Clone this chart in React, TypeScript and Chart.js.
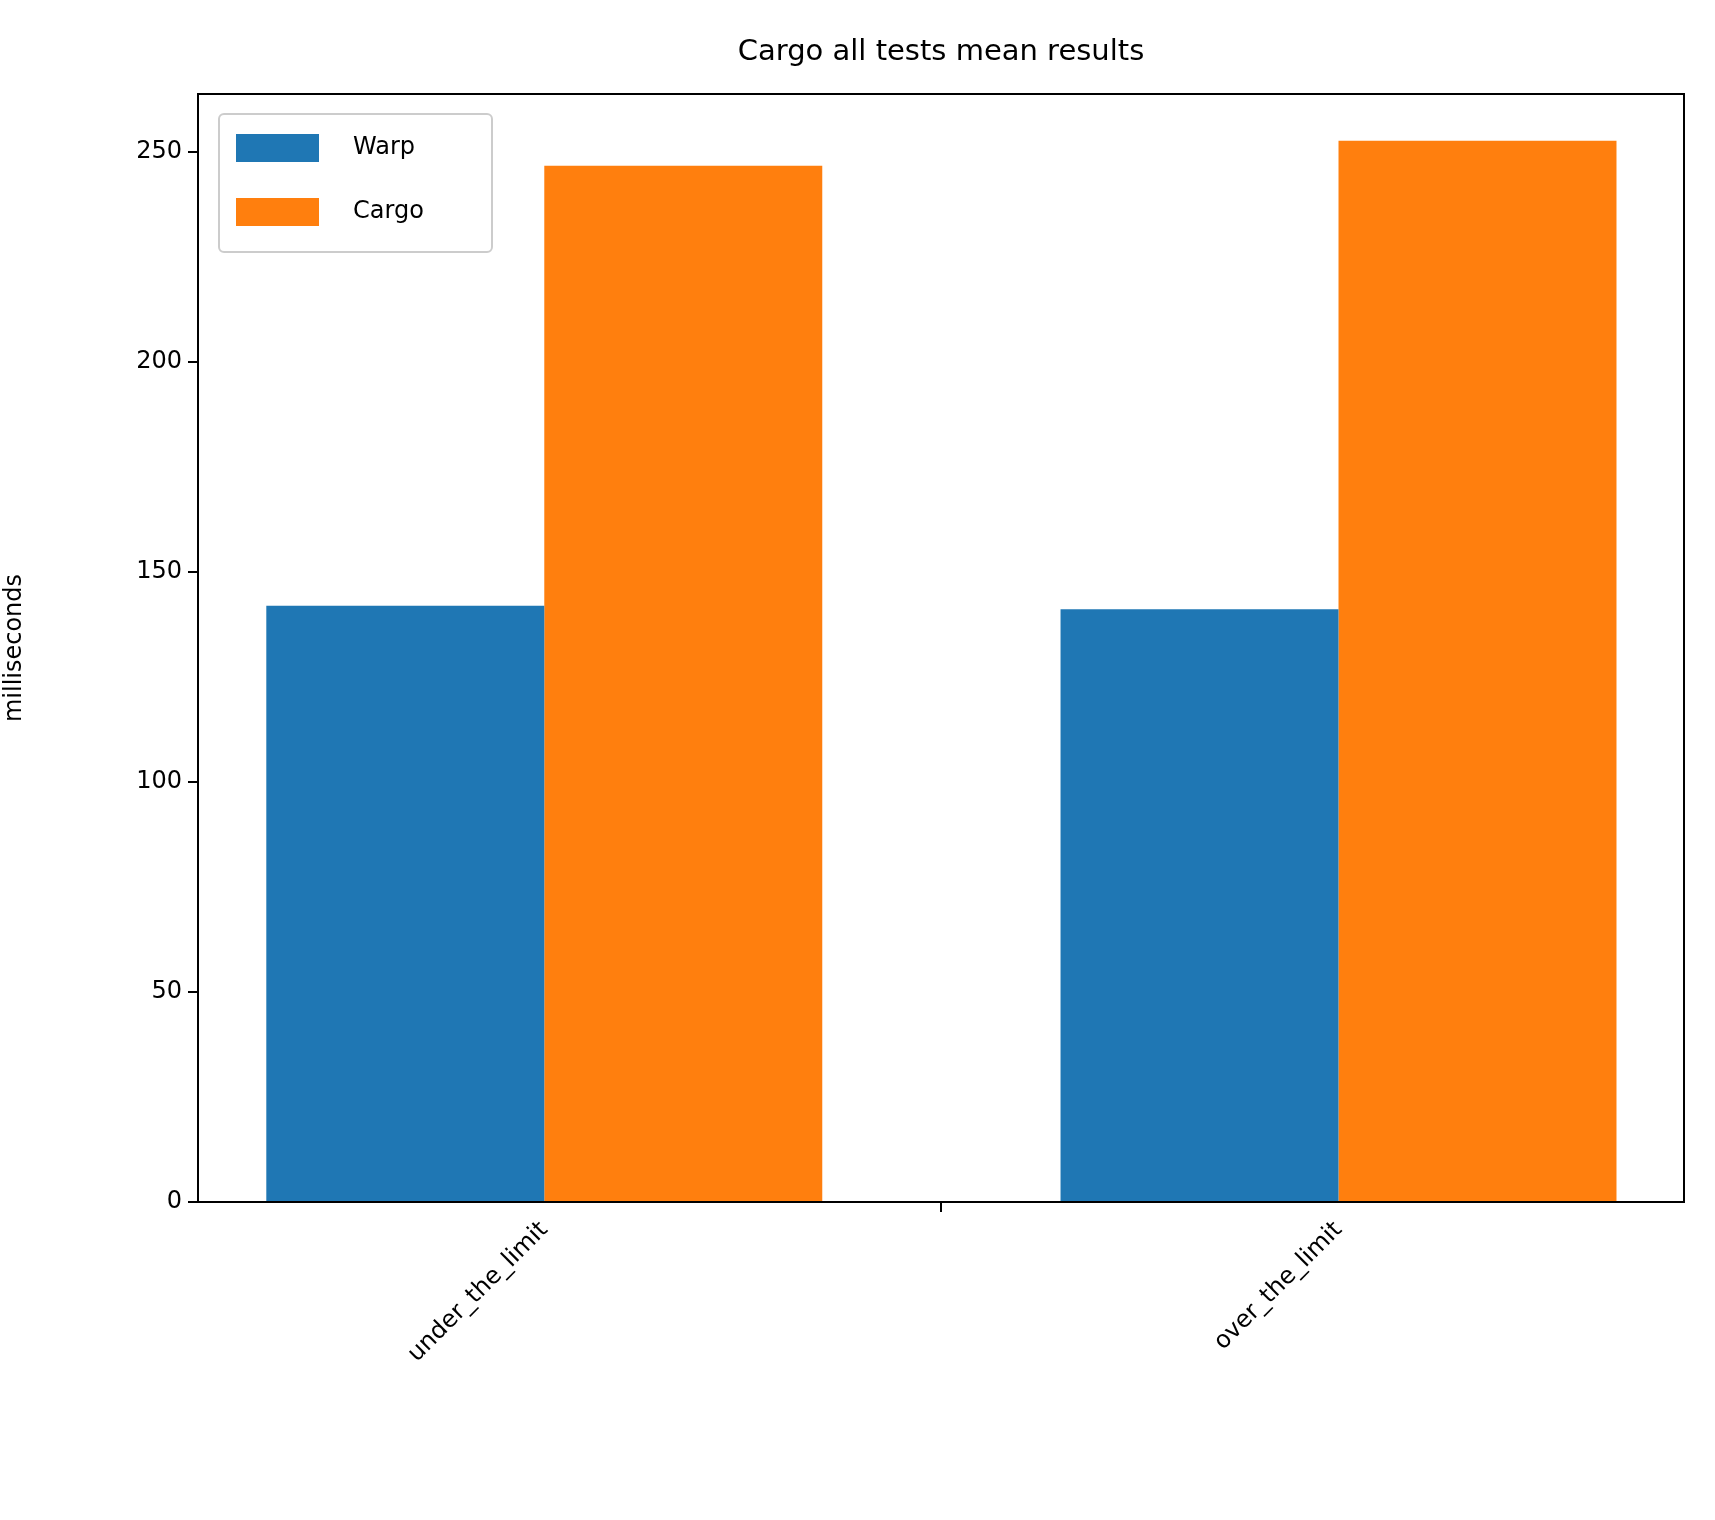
import React, { useEffect, useRef } from "react";
import { Chart, registerables } from "chart.js";
Chart.register(...registerables);

const categories = ["under_the_limit", "over_the_limit"];
const warp = [141.9, 141.1];
const cargo = [246.6, 252.6];
const yTicks = [0, 50, 100, 150, 200, 250];
const FONT = "DejaVu Sans";

const overlay = {
  id: "overlay",
  afterDraw(chart: any) {
    const ctx = chart.ctx;
    const a = chart.chartArea;
    ctx.save();
    ctx.strokeStyle = "#000";
    ctx.lineWidth = 2;
    ctx.strokeRect(a.left, a.top, a.right - a.left, a.bottom - a.top);
    ctx.fillStyle = "#000";
    ctx.font = `29px ${FONT}`;
    ctx.textAlign = "center";
    ctx.textBaseline = "middle";
    ctx.fillText("Cargo all tests mean results", (a.left + a.right) / 2, 52);
    // legend
    ctx.fillStyle = "rgba(255,255,255,0.8)";
    ctx.strokeStyle = "#ccc";
    ctx.lineWidth = 2;
    const bx = a.left + 21, by = a.top + 20;
    ctx.beginPath();
    (ctx as any).roundRect(bx, by, 273, 138, 5);
    ctx.fill();
    ctx.stroke();
    const items = [["Warp", "#1f77b4"], ["Cargo", "#ff7f0e"]];
    items.forEach(([t, c], i) => {
      const cy = by + 34 + i * 64;
      ctx.fillStyle = c;
      ctx.fillRect(bx + 17, cy - 14, 83, 28);
      ctx.fillStyle = "#000";
      ctx.font = `24px ${FONT}`;
      ctx.textAlign = "left";
      ctx.fillText(t, bx + 134, cy);
    });
    ctx.restore();
  },
};

export default function App() {
  const ref = useRef<HTMLCanvasElement>(null);
  useEffect(() => {
    const chart = new Chart(ref.current!, {
      type: "bar",
      data: {
        datasets: [
          { label: "Warp", data: warp.map((y, i) => ({ x: i, y })), backgroundColor: "#1f77b4" },
          { label: "Cargo", data: cargo.map((y, i) => ({ x: i, y })), backgroundColor: "#ff7f0e" },
        ],
      },
      options: {
        responsive: false,
        animation: false,
        layout: { padding: { top: 94, right: 31, left: 0, bottom: 0 } },
        datasets: { bar: { categoryPercentage: 0.7, barPercentage: 1 } },
        plugins: { legend: { display: false }, title: { display: false }, tooltip: { enabled: false } },
        scales: {
          x: {
            type: "linear",
            min: -0.436,
            max: 1.435,
            offset: false,
            afterBuildTicks: (s: any) => { s.ticks = categories.map((_, i) => ({ value: i })); },
            afterFit: (s: any) => { s.height = 318; },
            ticks: {
              callback: (v: any) => categories[v] ?? "",
              maxRotation: 45,
              minRotation: 45,
              color: "#000",
              font: { family: FONT, size: 24 },
              padding: 4,
            },
            grid: { display: true, drawOnChartArea: false, tickLength: 10, color: "#000", lineWidth: 2 },
            border: { display: true, color: "#000", width: 2 },
          },
          y: {
            min: 0,
            max: 263.7,
            afterBuildTicks: (s: any) => { s.ticks = yTicks.map((v) => ({ value: v })); },
            afterFit: (s: any) => { s.width = 198; },
            ticks: { color: "#000", font: { family: FONT, size: 24 }, padding: 6 },
            grid: { display: true, drawOnChartArea: false, tickLength: 10, color: "#000", lineWidth: 2 },
            border: { display: true, color: "#000", width: 2 },
            title: { display: true, text: "milliseconds", color: "#000", font: { family: FONT, size: 24 }, padding: 0 },
          },
        },
      },
      plugins: [overlay],
    } as any);
    return () => chart.destroy();
  }, []);
  return (
    <div style={{ position: "fixed", left: 0, top: 0, background: "#fff" }}>
      <canvas ref={ref} width={1715} height={1520} style={{ width: 1715, height: 1520 }} />
    </div>
  );
}
